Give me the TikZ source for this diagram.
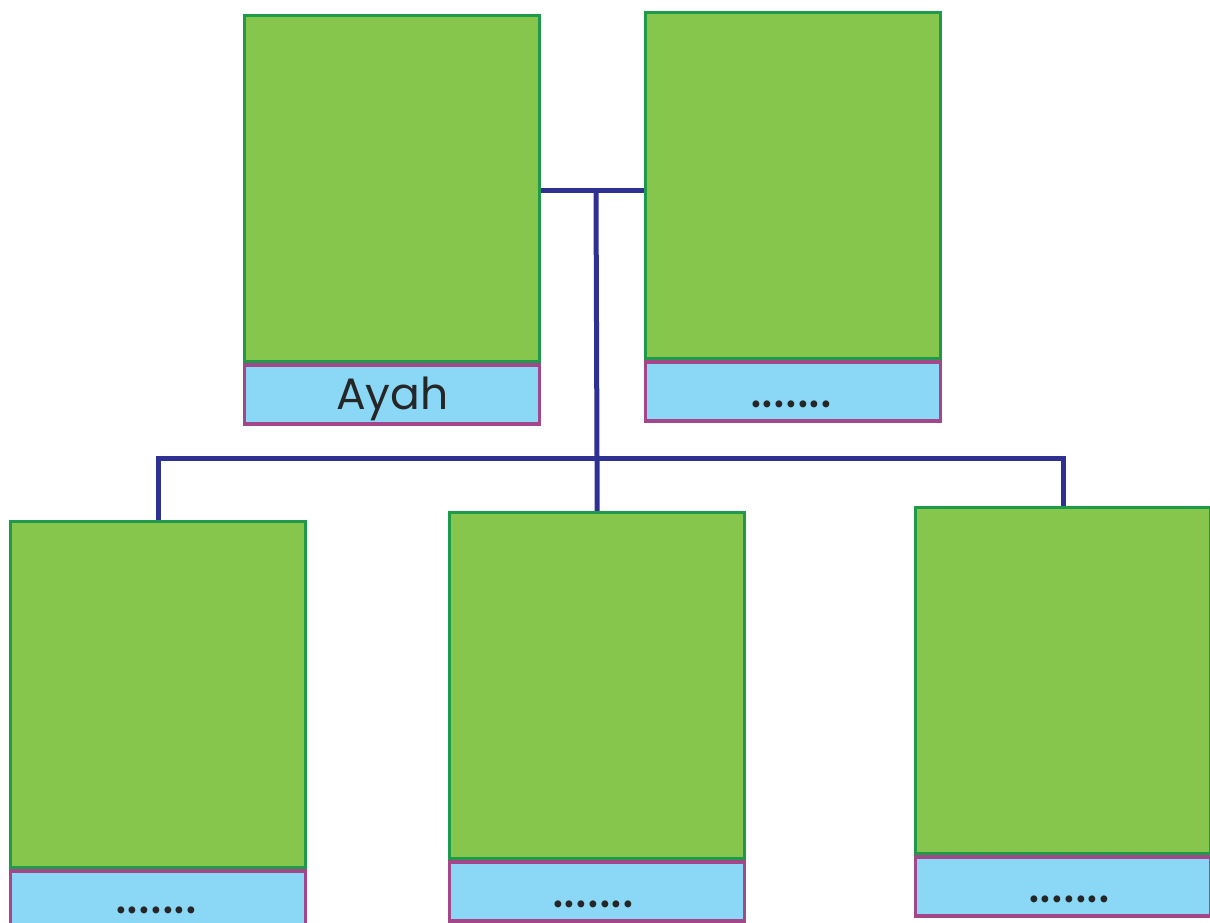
\documentclass[tikz,border=0pt]{standalone}
\usetikzlibrary{backgrounds}
\usepackage{fontspec}
\setmainfont{Poppins}
\definecolor{gfill}{HTML}{86C64C}
\definecolor{gborder}{HTML}{1F9A4A}
\definecolor{bfill}{HTML}{8AD8F6}
\definecolor{pborder}{HTML}{A3478A}
\definecolor{navy}{HTML}{2E3192}
\begin{document}
\begin{tikzpicture}[x=1pt,y=-1pt,
  photo/.style={draw=gborder, fill=gfill, line width=3.4pt, minimum width=295pt, minimum height=346pt, anchor=north west, inner sep=0pt},
  namebox/.style={draw=pborder, fill=bfill, line width=3.4pt, minimum width=295pt, minimum height=59pt, anchor=north west, inner sep=0pt},
  nametext/.style={anchor=base, inner sep=0pt, text=black!85, font=\fontsize{44}{48}\selectfont},
  dotstext/.style={nametext, font=\fontsize{56}{60}\selectfont},
  conn/.style={draw=navy, line width=5pt}]
\useasboundingbox (0,0) rectangle (1210,923);
% coordinates for connectors
\coordinate (j) at (596,190);
\coordinate (h) at (596,458);
% boxes
\node[photo] (p1) at (243,14) {};
\node[photo] (p2) at (644,11) {};
\node[photo] (c1) at (9,520) {};
\node[photo] (c2) at (448,511) {};
\node[photo] (c3) at (914,506) {};
% connectors
\begin{pgfonlayer}{background}
\draw[conn] (p1.east |- j) -- (p2.west |- j);
\draw[conn] (j) -- (c2.north);
\draw[conn] (c1.north) |- (h) -| (c3.north);
\end{pgfonlayer}
% name boxes
\node[namebox] (n1) at (p1.south west) {};
\node[namebox] (n2) at (p2.south west) {};
\node[namebox] (n3) at (c1.south west) {};
\node[namebox] (n4) at (c2.south west) {};
\node[namebox] (n5) at (c3.south west) {};
\node[nametext, yshift=16pt] (t1) at (n1.south) {Ayah};
\node[dotstext, yshift=15pt, xshift=-2pt] (t2) at (n2.south) {.......};
\node[dotstext, yshift=18pt, xshift=-2pt] (t3) at (n3.south) {.......};
\node[dotstext, yshift=15pt, xshift=-4pt] (t4) at (n4.south) {.......};
\node[dotstext, yshift=15pt, xshift=6pt] (t5) at (n5.south) {.......};
\end{tikzpicture}
\end{document}
